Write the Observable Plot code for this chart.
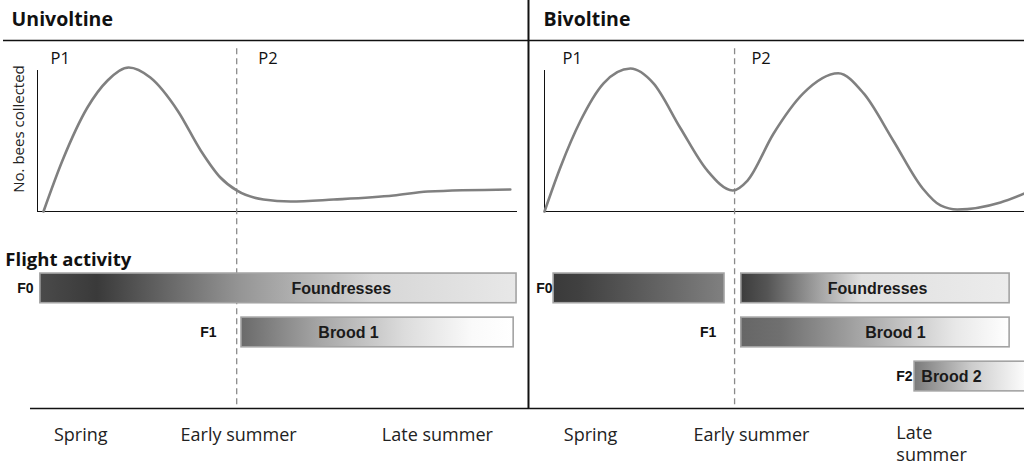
<!DOCTYPE html>
<html><head><meta charset="utf-8">
<script src="https://cdn.jsdelivr.net/npm/d3@7"></script>
<script src="https://cdn.jsdelivr.net/npm/@observablehq/plot@0.6"></script>
<style>
body{margin:0;background:#fff;}
#chart{display:flex;width:1024px;height:465px;overflow:hidden;}
#chart svg{display:block;flex:none;}
</style></head><body><div id="chart"></div>
<script>
// ---------- DATA ----------
const panels = ["Univoltine", "Bivoltine"];
const phaseNames = ["P1", "P2"];
const seasonNames = ["Spring", "Early summer", "Late summer"];

// Seasonal time (0-100) and number of bees collected (0-100, relative)
const univoltineTime  = [1.25, 5.2, 10.4, 14.6, 19, 23.5, 29.2, 34, 38.1, 41.5, 47.1, 52.7, 61.7, 74.2, 81.3, 98.5];
const univoltineBees  = [0, 35.4, 72.2, 91, 100, 93, 70, 42.4, 23.6, 14.6, 8.3, 6.9, 8.3, 11.1, 13.9, 15.3];
const bivoltineTime   = [0, 3.3, 7.5, 12.3, 17.9, 22.7, 28.3, 33.9, 39.2, 42.3, 47.7, 53.9, 61.2, 66.5, 72.7, 78.8, 82.5, 86, 95, 100];
const bivoltineBees   = [0, 30.6, 63, 89, 99.3, 89, 58, 28.5, 14.6, 21.5, 54, 82, 96, 82, 49, 16, 4.2, 1.4, 6.3, 12.5];

// Boundary between collection periods P1 / P2 (time) per panel
const phaseBoundary = [41.5, 39.6];
const phaseLabelTime = [[2.7, 46], [3.75, 43.1]];

// Flight activity bars
const barPanel = ["Univoltine", "Univoltine", "Bivoltine", "Bivoltine", "Bivoltine", "Bivoltine"];
const barGeneration = ["F0", "F1", "F0", "F0", "F1", "F2"];
const barLabel = ["Foundresses", "Brood 1", "", "Foundresses", "Brood 1", "Brood 2"];
const barStart = [0.6, 42.5, 1.9, 41.0, 41.0, 77.1];
const barEnd = [99.8, 99.2, 37.5, 96.9, 96.9, 101];
const barLabelTime = [63.3, 64.8, null, 69.4, 73.1, 84.8];

// Generation labels
const genPanel = ["Univoltine", "Univoltine", "Bivoltine", "Bivoltine", "Bivoltine"];
const genName = ["F0", "F1", "F0", "F1", "F2"];
const genTime = [-0.8, 37.3, 1.7, 35.8, 76.7];

// Season label positions (time) per panel
const seasonTime = [[9, 41.9, 83.3], [9.6, 43.1, 73.3]];

// ---------- STYLE / LAYOUT ----------
const gradients = [
  [[0, "#4a4a4a"], [0.12, "#3a3a3a"], [0.42, "#959595"], [0.7, "#d6d6d6"], [1, "#e8e8e8"]],
  [[0, "#6a6a6a"], [0.3, "#a8a8a8"], [0.6, "#dcdcdc"], [0.85, "#fafafa"], [1, "#ffffff"]],
  [[0, "#3a3a3a"], [0.15, "#404040"], [1, "#808080"]],
  [[0, "#3c3c3c"], [0.1, "#555555"], [0.3, "#a6a6a6"], [0.45, "#e0e0e0"], [1, "#ececec"]],
  [[0, "#666666"], [0.15, "#707070"], [0.5, "#b0b0b0"], [0.8, "#e8e8e8"], [1, "#ffffff"]],
  [[0, "#7a7a7a"], [0.5, "#cccccc"], [1, "#ffffff"]]
];
const rowIndex = {F0: 0, F1: 1, F2: 2};
const rowTop = r => -43.1 - 30.6 * r;
const rowHeight = 20.6;
const sans = "'Open Sans', sans-serif";
const arial = "'Liberation Sans', Arial, sans-serif";

const layouts = [
  {width: 530, xRange: [37, 517], topLine: [-7.08, 102.7], bottomLine: [-1.46, 102.7], divider: 102.29},
  {width: 494, xRange: [14, 494], topLine: [-2.92, 100], bottomLine: [-2.92, 100], divider: null}
];
const yTitle = 138.5, yTopLine = 118.75, yPhase = 110.3, yAxisTop = 97.9, yDashTop = 113,
      yBottomLine = -136.8, ySeason = -150.3, ySeasonWrapped = -147.3, yFlight = -28.5, yPageTop = 146.5;

function makePanel(p) {
  const panel = panels[p], L = layouts[p];
  const T = p === 0 ? univoltineTime : bivoltineTime;
  const N = p === 0 ? univoltineBees : bivoltineBees;
  const curve = T.map((t, i) => ({t, n: N[i]}));
  const bars = barPanel.map((d, i) => ({i, panel: d, gen: barGeneration[i], label: barLabel[i], start: barStart[i], end: barEnd[i], lt: barLabelTime[i]}))
    .filter(d => d.panel === panel)
    .map(d => ({...d, y1: rowTop(rowIndex[d.gen]), y2: rowTop(rowIndex[d.gen]) - rowHeight, ym: rowTop(rowIndex[d.gen]) - rowHeight / 2}));
  const gens = genPanel.map((d, i) => ({panel: d, name: genName[i], t: genTime[i]}))
    .filter(d => d.panel === panel)
    .map(d => ({...d, ym: rowTop(rowIndex[d.name]) - rowHeight / 2}));
  const phases = phaseNames.map((name, i) => ({name, t: phaseLabelTime[p][i]}));
  const seasons = seasonNames.map((name, i) => ({name, t: seasonTime[p][i]}));
  const wrapLast = p === 1;

  const marks = [
    Plot.ruleY([yTopLine], {x1: L.topLine[0], x2: L.topLine[1], stroke: "#111", strokeWidth: 1.3}),
    Plot.ruleY([yBottomLine], {x1: L.bottomLine[0], x2: L.bottomLine[1], stroke: "#111", strokeWidth: 1.3}),
    Plot.ruleX([0], {y1: 0, y2: yAxisTop, stroke: "#111", strokeWidth: 1}),
    Plot.ruleY([0], {x1: 0, x2: 100, stroke: "#111", strokeWidth: 1}),
    Plot.ruleX([phaseBoundary[p]], {y1: yDashTop, y2: yBottomLine, stroke: "#8a8a8a", strokeWidth: 1.3, strokeDasharray: "6,4"}),
    Plot.line(curve, {x: "t", y: "n", curve: "monotone-x", stroke: "#808080", strokeWidth: 2.6}),
    Plot.text([panel], {x: p === 0 ? -5.4 : -0.2, y: yTitle, text: d => d, textAnchor: "start", lineAnchor: "top", fontSize: 19.5, fontWeight: 700, fontFamily: sans, fill: "#111"}),
    Plot.text(phases, {x: "t", y: yPhase, text: "name", textAnchor: "start", lineAnchor: "top", fontSize: 16.5, fontFamily: sans, fill: "#111"}),
    Plot.rect(bars, {x1: "start", x2: "end", y1: "y1", y2: "y2", fill: d => `url(#grad${d.i})`, stroke: "#a3a3a3", strokeWidth: 1.6}),
    Plot.text(bars.filter(d => d.label), {x: "lt", y: "ym", text: "label", fontSize: 16, fontWeight: 700, fontFamily: arial, fill: "#1a1a1a"}),
    Plot.text(gens, {x: "t", y: "ym", text: "name", textAnchor: "end", fontSize: 14, fontWeight: 700, fontFamily: arial, fill: "#111"}),
    Plot.text(wrapLast ? seasons.slice(0, 2) : seasons, {x: "t", y: ySeason, text: "name", lineAnchor: "top", fontSize: 18, fontFamily: sans, fill: "#222"}),
  ];
  if (wrapLast) {
    marks.push(Plot.text(seasons.slice(2), {x: "t", y: ySeasonWrapped, text: d => d.name.replace(" ", "\n"), textAnchor: "start", lineAnchor: "top", lineHeight: 1.2, fontSize: 18, fontFamily: sans, fill: "#222"}));
  }
  if (p === 0) {
    marks.push(Plot.text(["No. bees collected"], {x: -3.75, y: 57.3, text: d => d, rotate: -90, fontSize: 15, fontFamily: sans, fill: "#222"}));
    marks.push(Plot.text(["Flight activity"], {x: -6.7, y: yFlight, text: d => d, textAnchor: "start", lineAnchor: "top", fontSize: 18.5, fontWeight: 700, fontFamily: sans, fill: "#111"}));
  }
  if (L.divider != null) {
    marks.push(Plot.ruleX([L.divider], {y1: yPageTop, y2: yBottomLine, stroke: "#111", strokeWidth: 2}));
  }

  const svg = Plot.plot({
    width: L.width, height: 465,
    margin: 0,
    x: {domain: [0, 100], range: L.xRange, axis: null},
    y: {domain: [0, 100], range: [211, 67], axis: null},
    color: {type: "identity"},
    style: {fontFamily: sans, background: "#fff"},
    marks
  });
  const defs = d3.select(svg).insert("defs", ":first-child");
  bars.forEach(b => {
    const g = defs.append("linearGradient").attr("id", `grad${b.i}`).attr("x1", 0).attr("x2", 1).attr("y1", 0).attr("y2", 0);
    gradients[b.i].forEach(([o, c]) => g.append("stop").attr("offset", o).attr("stop-color", c));
  });
  return svg;
}

const chart = document.getElementById("chart");
chart.appendChild(makePanel(0));
chart.appendChild(makePanel(1));
</script></body></html>
